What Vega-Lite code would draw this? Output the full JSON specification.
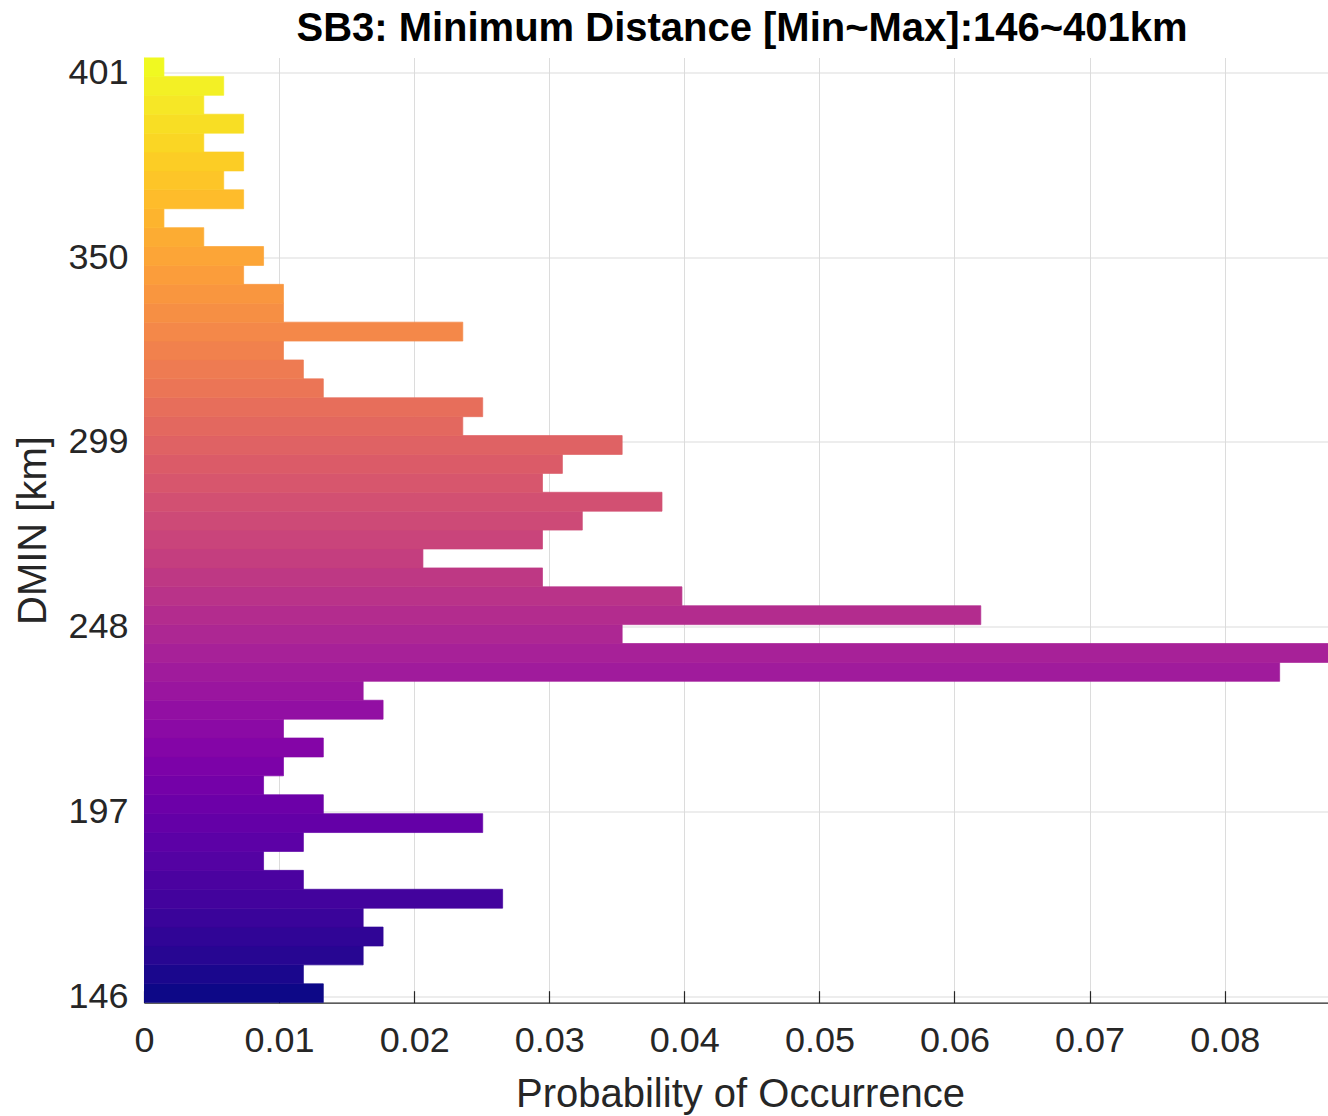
{
  "$schema": "https://vega.github.io/schema/vega-lite/v6.json",
  "autosize": {"type": "none"},
  "padding": {"left": 144, "top": 57.5, "right": 0, "bottom": 113},
  "width": 1184,
  "height": 945.2,
  "background": "white",
  "config": {"view": {"stroke": null}},
  "title": {
    "text": "SB3: Minimum Distance [Min~Max]:146~401km",
    "font": "Liberation Sans",
    "fontSize": 40,
    "fontWeight": "bold",
    "color": "#000000",
    "anchor": "middle",
    "dx": 6,
    "dy": 42,
    "baseline": "alphabetic",
    "offset": 15
  },
  "data": {
    "values": [
      {"lo": 144.35, "hi": 149.56, "p": 0.013274},
      {"lo": 149.56, "hi": 154.78, "p": 0.011799},
      {"lo": 154.78, "hi": 159.99, "p": 0.016224},
      {"lo": 159.99, "hi": 165.21, "p": 0.017699},
      {"lo": 165.21, "hi": 170.42, "p": 0.016224},
      {"lo": 170.42, "hi": 175.63, "p": 0.026549},
      {"lo": 175.63, "hi": 180.85, "p": 0.011799},
      {"lo": 180.85, "hi": 186.06, "p": 0.00885},
      {"lo": 186.06, "hi": 191.28, "p": 0.011799},
      {"lo": 191.28, "hi": 196.49, "p": 0.025074},
      {"lo": 196.49, "hi": 201.70, "p": 0.013274},
      {"lo": 201.70, "hi": 206.92, "p": 0.00885},
      {"lo": 206.92, "hi": 212.13, "p": 0.010324},
      {"lo": 212.13, "hi": 217.35, "p": 0.013274},
      {"lo": 217.35, "hi": 222.56, "p": 0.010324},
      {"lo": 222.56, "hi": 227.77, "p": 0.017699},
      {"lo": 227.77, "hi": 232.99, "p": 0.016224},
      {"lo": 232.99, "hi": 238.20, "p": 0.084071},
      {"lo": 238.20, "hi": 243.42, "p": 0.088496},
      {"lo": 243.42, "hi": 248.63, "p": 0.035398},
      {"lo": 248.63, "hi": 253.84, "p": 0.061947},
      {"lo": 253.84, "hi": 259.06, "p": 0.039823},
      {"lo": 259.06, "hi": 264.27, "p": 0.029499},
      {"lo": 264.27, "hi": 269.49, "p": 0.020649},
      {"lo": 269.49, "hi": 274.70, "p": 0.029499},
      {"lo": 274.70, "hi": 279.91, "p": 0.032448},
      {"lo": 279.91, "hi": 285.13, "p": 0.038348},
      {"lo": 285.13, "hi": 290.34, "p": 0.029499},
      {"lo": 290.34, "hi": 295.56, "p": 0.030973},
      {"lo": 295.56, "hi": 300.77, "p": 0.035398},
      {"lo": 300.77, "hi": 305.98, "p": 0.023599},
      {"lo": 305.98, "hi": 311.20, "p": 0.025074},
      {"lo": 311.20, "hi": 316.41, "p": 0.013274},
      {"lo": 316.41, "hi": 321.63, "p": 0.011799},
      {"lo": 321.63, "hi": 326.84, "p": 0.010324},
      {"lo": 326.84, "hi": 332.05, "p": 0.023599},
      {"lo": 332.05, "hi": 337.27, "p": 0.010324},
      {"lo": 337.27, "hi": 342.48, "p": 0.010324},
      {"lo": 342.48, "hi": 347.70, "p": 0.007375},
      {"lo": 347.70, "hi": 352.91, "p": 0.00885},
      {"lo": 352.91, "hi": 358.12, "p": 0.004425},
      {"lo": 358.12, "hi": 363.34, "p": 0.001475},
      {"lo": 363.34, "hi": 368.55, "p": 0.007375},
      {"lo": 368.55, "hi": 373.77, "p": 0.0059},
      {"lo": 373.77, "hi": 378.98, "p": 0.007375},
      {"lo": 378.98, "hi": 384.19, "p": 0.004425},
      {"lo": 384.19, "hi": 389.41, "p": 0.007375},
      {"lo": 389.41, "hi": 394.62, "p": 0.004425},
      {"lo": 394.62, "hi": 399.84, "p": 0.0059},
      {"lo": 399.84, "hi": 405.05, "p": 0.001475}
    ]
  },
  "mark": {"type": "rect", "clip": true, "strokeWidth": 0.7},
  "encoding": {
    "x": {
      "field": "p",
      "type": "quantitative",
      "scale": {"domain": [0, 0.08765], "nice": false, "zero": true},
      "axis": {
        "values": [0, 0.01, 0.02, 0.03, 0.04, 0.05, 0.06, 0.07, 0.08],
        "format": ".2~f",
        "title": "Probability of Occurrence",
        "titleFont": "Liberation Sans",
        "titleFontSize": 40,
        "titleFontWeight": "normal",
        "titleColor": "#262626",
        "titleX": 596,
        "titleY": 104,
        "titleAlign": "center",
        "titleBaseline": "alphabetic",
        "labelFont": "Liberation Sans",
        "labelFontSize": 36,
        "labelColor": "#262626",
        "labelPadding": 33,
        "labelBaseline": "top",
        "labelFlush": false,
        "labelOverlap": false,
        "grid": true,
        "gridColor": "#dcdcdc",
        "gridWidth": 1,
        "domain": true,
        "domainColor": "#262626",
        "domainWidth": 1.2,
        "ticks": true,
        "tickSize": -12,
        "tickColor": "#262626",
        "tickWidth": 1.2
      }
    },
    "x2": {"datum": 0},
    "y": {
      "field": "lo",
      "type": "quantitative",
      "scale": {"domain": [144.35, 405.05], "nice": false, "zero": false},
      "axis": {
        "values": [146, 197, 248, 299, 350, 401],
        "title": "DMIN [km]",
        "titleFont": "Liberation Sans",
        "titleFontSize": 40,
        "titleFontWeight": "normal",
        "titleColor": "#262626",
        "titleAngle": -90,
        "titleX": -111,
        "titleY": 472.6,
        "titleAlign": "center",
        "titleBaseline": "middle",
        "labelFont": "Liberation Sans",
        "labelFontSize": 36,
        "labelColor": "#262626",
        "labelPadding": 16,
        "labelBaseline": "middle",
        "labelFlush": false,
        "labelOverlap": false,
        "grid": true,
        "gridColor": "#dcdcdc",
        "gridWidth": 1,
        "domain": false,
        "ticks": false
      }
    },
    "y2": {"field": "hi"},
    "color": {
      "field": "lo",
      "type": "quantitative",
      "scale": {"scheme": "plasma", "domain": [144.35, 399.84]},
      "legend": null
    },
    "stroke": {
      "field": "lo",
      "type": "quantitative",
      "scale": {"scheme": "plasma", "domain": [144.35, 399.84]},
      "legend": null
    }
  }
}
